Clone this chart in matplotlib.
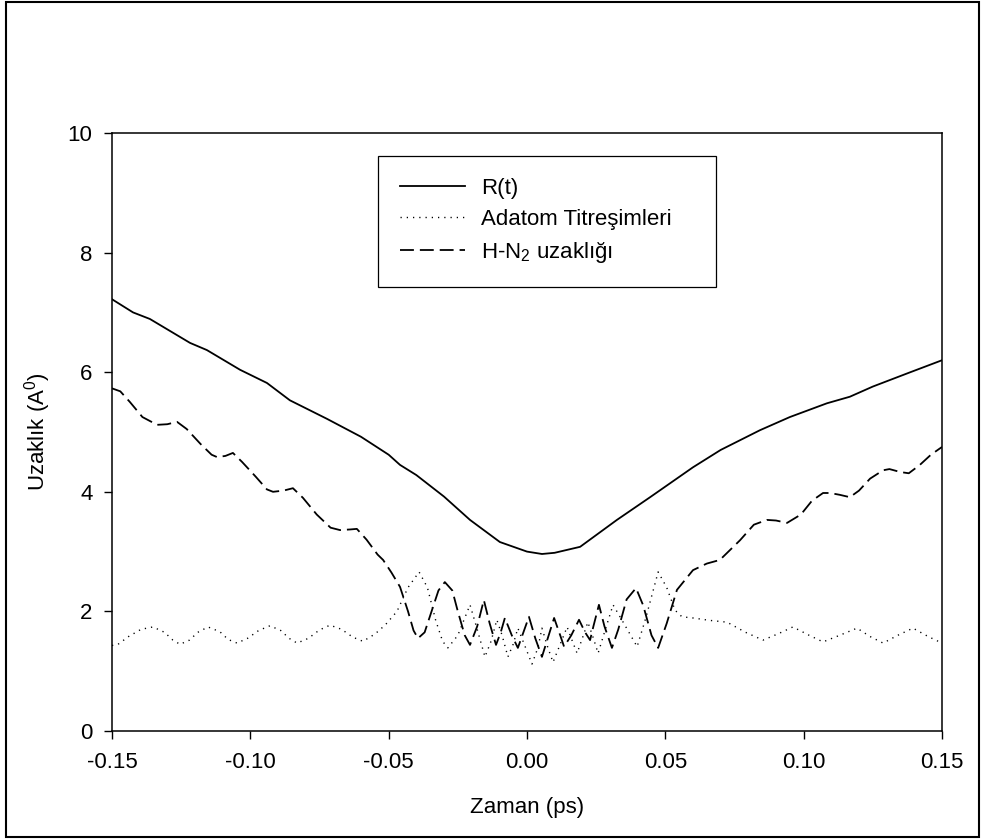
import matplotlib
matplotlib.use("Agg")
import matplotlib.pyplot as plt
from matplotlib.patches import Rectangle

plt.rcParams['font.family'] = ['Liberation Sans', 'DejaVu Sans']
plt.rcParams['mathtext.fontset'] = 'custom'
plt.rcParams['mathtext.rm'] = 'Liberation Sans'
plt.rcParams['mathtext.it'] = 'Liberation Sans:italic'
plt.rcParams['lines.scale_dashes'] = False

# ---- data ----
r_t = [-0.150, -0.1424, -0.1363, -0.1218, -0.1157, -0.1037, -0.094, -0.0857, -0.0723,
       -0.060, -0.050, -0.0459, -0.040, -0.030, -0.0206, -0.0098, 0.000, 0.00542, 0.010,
       0.0192, 0.0325, 0.0445, 0.060, 0.070, 0.0842, 0.095, 0.1084, 0.1167, 0.125, 0.138, 0.150]
r_y = [7.22, 7.00, 6.89, 6.49, 6.37, 6.04, 5.82, 5.53, 5.22,
       4.92, 4.62, 4.45, 4.28, 3.92, 3.53, 3.16, 3.00, 2.96, 2.98,
       3.08, 3.53, 3.91, 4.41, 4.70, 5.03, 5.25, 5.48, 5.59, 5.76, 5.99, 6.20]

ad_t = [-0.150, -0.1478, -0.144, -0.1395, -0.1352, -0.131, -0.128, -0.1254, -0.122, -0.119,
        -0.1153, -0.111, -0.108, -0.1048, -0.101, -0.097, -0.0929, -0.089, -0.086, -0.0831,
        -0.079, -0.075, -0.0712, -0.067, -0.063, -0.0593, -0.055, -0.0513, -0.047, -0.043,
        -0.039, -0.036, -0.033, -0.0305, -0.0286, -0.025, -0.0206, -0.018, -0.0152, -0.013,
        -0.0109, -0.009, -0.0069, -0.005, -0.0033, -0.001, 0.0018, 0.004, 0.0054, 0.0075,
        0.0094, 0.012, 0.0145, 0.016, 0.0181, 0.020, 0.022, 0.024, 0.0257, 0.028,
        0.0311, 0.035, 0.0398, 0.043, 0.0474, 0.0505, 0.0535, 0.056, 0.060, 0.066,
        0.0723, 0.079, 0.0853, 0.091, 0.0961, 0.102, 0.107, 0.113, 0.1193, 0.124,
        0.1287, 0.134, 0.1395, 0.145, 0.150]
ad_y = [1.43, 1.45, 1.58, 1.70, 1.74, 1.65, 1.52, 1.45, 1.52, 1.65,
        1.74, 1.66, 1.53, 1.47, 1.55, 1.68, 1.76, 1.68, 1.55, 1.47,
        1.55, 1.69, 1.77, 1.70, 1.57, 1.50, 1.62, 1.77, 2.00, 2.40,
        2.66, 2.40, 1.85, 1.50, 1.39, 1.60, 2.11, 1.70, 1.24, 1.50,
        1.86, 1.60, 1.24, 1.45, 1.72, 1.45, 1.12, 1.40, 1.72, 1.40,
        1.15, 1.45, 1.74, 1.55, 1.30, 1.55, 1.82, 1.55, 1.30, 1.65,
        2.11, 1.80, 1.41, 1.90, 2.66, 2.40, 2.02, 1.91, 1.89, 1.85,
        1.82, 1.65, 1.52, 1.63, 1.74, 1.60, 1.49, 1.60, 1.72, 1.58,
        1.47, 1.60, 1.72, 1.58, 1.47]

hn_t = [-0.150, -0.147, -0.1435, -0.139, -0.1337, -0.130, -0.1265, -0.123, -0.118, -0.114,
        -0.112, -0.109, -0.1063, -0.103, -0.098, -0.094, -0.0918, -0.088, -0.0846, -0.081,
        -0.076, -0.071, -0.0676, -0.064, -0.0615, -0.058, -0.054, -0.052, -0.049, -0.0459,
        -0.043, -0.041, -0.0394, -0.037, -0.0345, -0.032, -0.0297, -0.027, -0.025, -0.0225,
        -0.0206, -0.018, -0.0156, -0.0135, -0.0112, -0.0095, -0.008, -0.0055, -0.0033, -0.0013,
        0.0007, 0.003, 0.0054, 0.0075, 0.0098, 0.012, 0.0134, 0.016, 0.0188, 0.021,
        0.0228, 0.024, 0.026, 0.028, 0.0307, 0.033, 0.036, 0.0394, 0.042, 0.045,
        0.0474, 0.0505, 0.0542, 0.060, 0.065, 0.0697, 0.077, 0.082, 0.0867, 0.090,
        0.094, 0.099, 0.103, 0.107, 0.1095, 0.113, 0.1167, 0.120, 0.124, 0.1287,
        0.131, 0.135, 0.138, 0.142, 0.146, 0.150]
hn_y = [5.73, 5.68, 5.50, 5.25, 5.12, 5.13, 5.17, 5.05, 4.80, 4.62,
        4.58, 4.60, 4.65, 4.50, 4.25, 4.04, 4.00, 4.02, 4.06, 3.90,
        3.62, 3.40, 3.36, 3.37, 3.38, 3.20, 2.95, 2.86, 2.65, 2.41,
        2.00, 1.68, 1.55, 1.65, 2.00, 2.35, 2.49, 2.35, 2.00, 1.60,
        1.44, 1.75, 2.19, 1.80, 1.44, 1.65, 1.89, 1.60, 1.39, 1.65,
        1.91, 1.55, 1.24, 1.55, 1.89, 1.60, 1.41, 1.60, 1.86, 1.65,
        1.52, 1.75, 2.11, 1.75, 1.39, 1.70, 2.20, 2.39, 2.10, 1.60,
        1.39, 1.80, 2.36, 2.69, 2.80, 2.86, 3.19, 3.45, 3.53, 3.52,
        3.48, 3.62, 3.85, 3.98, 3.98, 3.95, 3.91, 4.02, 4.22, 4.36,
        4.38, 4.33, 4.31, 4.45, 4.62, 4.75]

labels = ['R(t)', 'Adatom Titreşimleri', 'H-N$_2$ uzaklığı']
x_ticks = [-0.15, -0.10, -0.05, 0.00, 0.05, 0.10, 0.15]
y_ticks = [0, 2, 4, 6, 8, 10]

W, H = 981, 839
fig = plt.figure(figsize=(W / 100, H / 100), dpi=100)
ax = fig.add_axes([112 / W, 1 - 731 / H, (942 - 112) / W, (731 - 133) / H])

ax.plot(r_t, r_y, color='black', lw=1.3, linestyle='-', label=labels[0])
ax.plot(ad_t, ad_y, color='black', lw=1.0, linestyle=(0, (0.9, 3.6)), label=labels[1])
ax.plot(hn_t, hn_y, color='black', lw=1.3, linestyle=(0, (10, 4.3)), label=labels[2])

ax.set_xlim(-0.15, 0.15)
ax.set_ylim(0, 10)
ax.set_xticks(x_ticks)
ax.set_xticklabels([f'{v:.2f}' for v in x_ticks])
ax.set_yticks(y_ticks)
ax.set_yticklabels([str(v) for v in y_ticks])
ax.tick_params(axis='both', direction='out', length=6, width=1.0, labelsize=16)
ax.tick_params(axis='x', pad=9)
ax.tick_params(axis='y', pad=8)
for s in ax.spines.values():
    s.set_linewidth(1.1)

ax.set_xlabel('Zaman (ps)', fontsize=16)
ax.xaxis.set_label_coords(0.5, -0.110)
ax.set_ylabel('Uzaklık (A$^0$)', fontsize=16)
ax.yaxis.set_label_coords(-0.071, 0.5)

x0 = (378 - 112) / 830
x1 = (716 - 112) / 830
yt = (731 - 156) / 598
leg = ax.legend(loc='upper left', bbox_to_anchor=(x0, yt - 0.3, x1 - x0, 0.3),
                mode='expand', fontsize=16, frameon=True, fancybox=False,
                edgecolor='black', framealpha=1, handlelength=2.9, handletextpad=0.75,
                borderpad=1.0, labelspacing=0.44, borderaxespad=0)
leg.get_frame().set_linewidth(0.9)

fig.patches.append(Rectangle((6 / W, 1 - 837 / H), (979 - 6) / W, (837 - 2) / H,
                             transform=fig.transFigure, fill=False,
                             edgecolor='black', lw=1.5))

fig.savefig('out.png', dpi=100)
